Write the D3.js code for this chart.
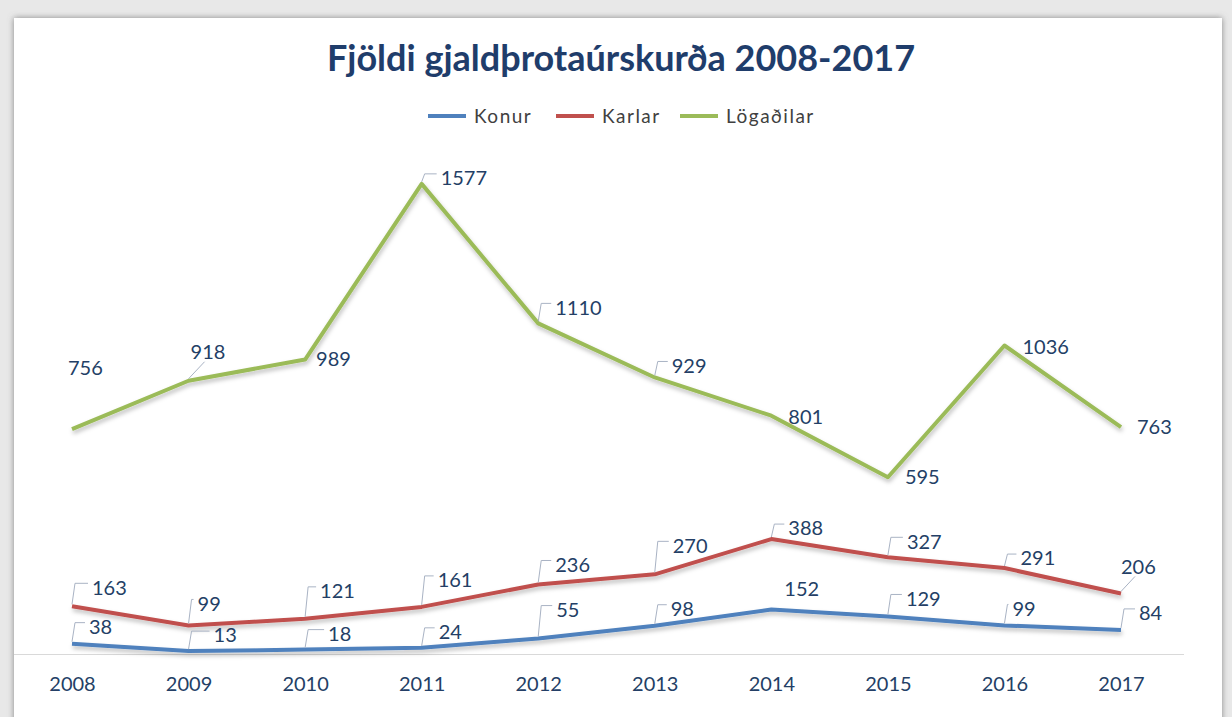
<!DOCTYPE html>
<html>
<head>
<meta charset="utf-8">
<script src="https://cdn.jsdelivr.net/npm/d3@7"></script>
<style>
  html, body { margin: 0; padding: 0; background: #e6e6e6; }
  #chart { width: 1232px; height: 717px; }
  text { font-family: Lato, "Noto Sans", sans-serif; }
</style>
</head>
<body>
<div id="chart"></div>
<script>
/* DATA */
const years = ["2008", "2009", "2010", "2011", "2012", "2013", "2014", "2015", "2016", "2017"];
const seriesNames = ["Konur", "Karlar", "Lögaðilar"];
const konur = [38, 13, 18, 24, 55, 98, 152, 129, 99, 84];
const karlar = [163, 99, 121, 161, 236, 270, 388, 327, 291, 206];
const logadilar = [756, 918, 989, 1577, 1110, 929, 801, 595, 1036, 763];

// label placement: [dx to text start, dy to text middle, leader type]
const konurLabelPos = [[17,-17,"b"],[25,-16,"b"],[23,-16,"b"],[17,-16,"b"],[18,-29,"b"],[16,-17,"b"],[13,-21,""],[18,-18,"b"],[8,-17,"b"],[18,-17,"b"]];
const karlarLabelPos = [[20,-19,"b"],[9,-22,"b"],[15,-28,"b"],[16,-27,"b"],[17,-20,"b"],[18,-29,"b"],[17,-11,"b"],[19,-16,"b"],[16,-10,"b"],[0,-27,"d"]];
const logadilarLabelPos = [[-4,-61,""],[2,-29,"d"],[11,-1,""],[19,-6,"b"],[17,-16,"b"],[17,-12,"b"],[17,1,""],[17,0,""],[18,1,""],[16,0,""]];

const colors = ["#4F81BD", "#C0504D", "#9BBB59"];

const width = 1232, height = 717;

const svg = d3.select("#chart")
    .append("svg")
    .attr("width", width)
    .attr("height", height);

const defs = svg.append("defs");
defs.append("filter").attr("id", "frameShadow")
    .attr("x", "-5%").attr("y", "-5%").attr("width", "110%").attr("height", "110%")
  .append("feDropShadow")
    .attr("dx", 0).attr("dy", 0).attr("stdDeviation", 3)
    .attr("flood-color", "#707070").attr("flood-opacity", 0.8);
defs.append("filter").attr("id", "lineShadow")
    .attr("x", "-5%").attr("y", "-20%").attr("width", "110%").attr("height", "160%")
  .append("feDropShadow")
    .attr("dx", 1).attr("dy", 3).attr("stdDeviation", 2)
    .attr("flood-color", "#000").attr("flood-opacity", 0.25);

/* background + chart frame */
svg.append("rect").attr("width", width).attr("height", height).attr("fill", "#e8e8e8");
svg.append("rect")
    .attr("x", 14).attr("y", 18)
    .attr("width", 1208).attr("height", 720)
    .attr("fill", "#ffffff")
    .attr("filter", "url(#frameShadow)");

/* scales */
const xScale = d3.scalePoint()
    .domain(years)
    .range([72, 1121]);

const yScale = d3.scaleLinear()
    .domain([0, 1600])
    .range([655, 177]);

/* axis */
const xAxis = svg.append("g")
    .attr("transform", "translate(0,655)")
    .call(d3.axisBottom(xScale).tickSize(0).tickPadding(22));
xAxis.select(".domain").remove();
xAxis.selectAll("text")
    .attr("font-size", 20)
    .attr("fill", "#243F66")
    .attr("font-family", "Lato, sans-serif");
svg.append("line")
    .attr("x1", 14).attr("x2", 1184)
    .attr("y1", 654.5).attr("y2", 654.5)
    .attr("stroke", "#d9d9d9").attr("stroke-width", 1);

/* lines */
const seriesData = [
    { name: seriesNames[0], values: konur, pos: konurLabelPos, color: colors[0] },
    { name: seriesNames[1], values: karlar, pos: karlarLabelPos, color: colors[1] },
    { name: seriesNames[2], values: logadilar, pos: logadilarLabelPos, color: colors[2] }
];

const line = d3.line()
    .x(function(d, i) { return xScale(years[i]); })
    .y(function(d) { return yScale(d); });

seriesData.forEach(function(s) {
    svg.append("path")
        .datum(s.values)
        .attr("d", line)
        .attr("fill", "none")
        .attr("stroke", s.color)
        .attr("stroke-width", 4)
        .attr("stroke-linejoin", "round")
        .attr("filter", "url(#lineShadow)");
});

/* data labels */
seriesData.forEach(function(s) {
    s.values.forEach(function(v, i) {
        const px = xScale(years[i]);
        const py = yScale(v);
        const p = s.pos[i];
        const tx = px + p[0];
        const ty = py + p[1];
        if (p[2] === "b") {
            svg.append("path")
                .attr("d", `M${px},${py - 2}L${px + 3},${ty - 4}L${tx - 4},${ty - 4}`)
                .attr("fill", "none")
                .attr("stroke", "#a9b3c4")
                .attr("stroke-width", 1);
        } else if (p[2] === "d") {
            svg.append("path")
                .attr("d", `M${px},${py - 2}L${tx + 14},${ty + 10}`)
                .attr("fill", "none")
                .attr("stroke", "#a9b3c4")
                .attr("stroke-width", 1);
        }
        svg.append("text")
            .attr("x", tx)
            .attr("y", ty)
            .attr("dy", "0.36em")
            .attr("font-size", 20)
            .attr("fill", "#243F66")
            .text(v);
    });
});

/* title */
svg.append("text")
    .attr("x", 621)
    .attr("y", 71)
    .attr("text-anchor", "middle")
    .attr("font-size", 36)
    .attr("font-weight", "bold")
    .attr("fill", "#1F3D6B")
    .text("Fjöldi gjaldþrotaúrskurða 2008-2017");

/* legend */
const legendX = [428, 556, 680];
const legend = svg.append("g");
seriesData.forEach(function(s, i) {
    legend.append("line")
        .attr("x1", legendX[i]).attr("x2", legendX[i] + 38)
        .attr("y1", 116).attr("y2", 116)
        .attr("stroke", s.color).attr("stroke-width", 4);
    legend.append("text")
        .attr("x", legendX[i] + 46)
        .attr("y", 116)
        .attr("dy", "0.35em")
        .attr("font-size", 19)
        .attr("letter-spacing", 1.5)
        .attr("fill", "#404040")
        .text(s.name);
});
</script>
</body>
</html>
